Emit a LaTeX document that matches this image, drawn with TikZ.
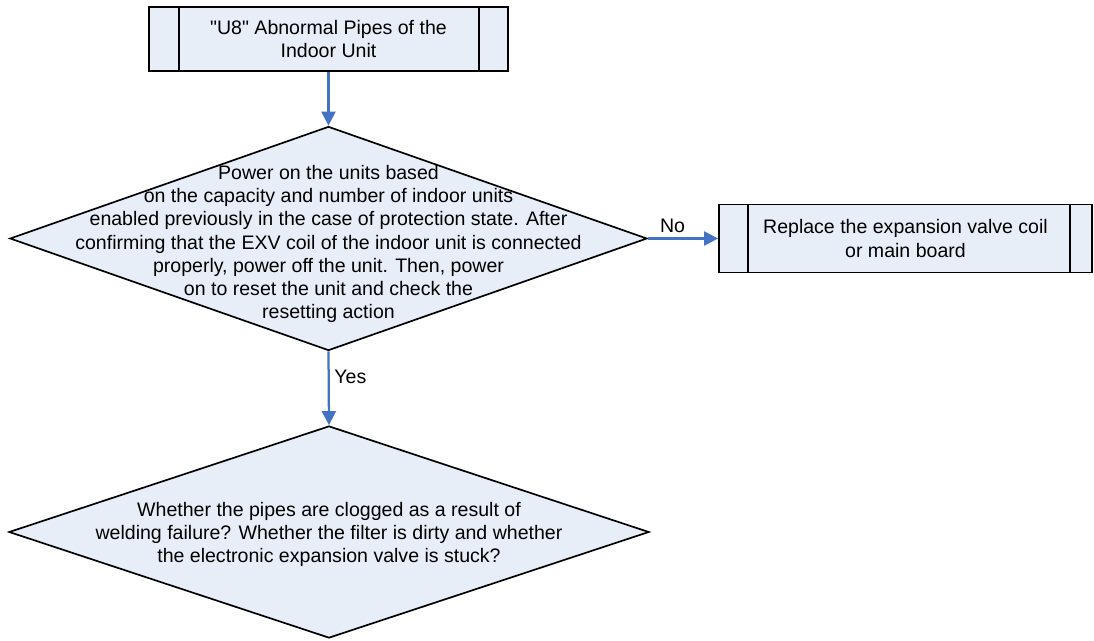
\documentclass[tikz,border=0pt]{standalone}
\usepackage{fontspec}
\setmainfont{Liberation Sans}[Ligatures=TeXOff]
\usetikzlibrary{arrows.meta, positioning, shapes.geometric}
\definecolor{flowFill}{HTML}{E8EEF8}
\definecolor{flowBlue}{HTML}{4472C4}

\tikzset{
  procbox/.style n args={2}{draw, line width=1.2pt, fill=flowFill, inner sep=0pt, align=center,
    path picture={
      \draw[line width=1.2pt] ([xshift=#1]path picture bounding box.north west) -- ([xshift=#1]path picture bounding box.south west);
      \draw[line width=1.2pt] ([xshift=-#2]path picture bounding box.north east) -- ([xshift=-#2]path picture bounding box.south east);
    }},
  decision/.style={diamond, draw, line width=1.2pt, fill=flowFill, inner sep=0pt},
  flowtext/.style={align=center, font=\fontsize{13.9}{16.4}\selectfont},
  flow/.style={draw=flowBlue, line width=1.6pt, -{Triangle[length=10pt, width=10pt]}},
}

\begin{document}
\begin{tikzpicture}[x=0.025cm, y=-0.025cm]
  \useasboundingbox (0,0) rectangle (1094,640);

  \node[procbox={0.75cm}{0.725cm}, minimum width=8.975cm, minimum height=1.6cm, flowtext] (start) at (328.5,39)
    {"U8" Abnormal Pipes of the\\Indoor Unit};

  \node[decision, minimum width=15.925cm, minimum height=5.6cm] (check) at (328.5,238.5) {};
  \node[flowtext] (checktext) at (328.5,244) {Power on the units based\\on the capacity and number of indoor units\\enabled previously in the case of protection state. After\\confirming that the EXV coil of the indoor unit is connected\\properly, power off the unit. Then, power\\on to reset the unit and check the\\resetting action};

  \node[procbox={0.725cm}{0.55cm}, minimum width=9.325cm, minimum height=1.7cm, flowtext] (replace) at (905.5,238.5)
    {Replace the expansion valve coil\\or main board};

  \node[decision, minimum width=16cm, minimum height=5.3cm] (pipes) at (329,532) {};
  \node[flowtext] (pipestext) at (329,534) {Whether the pipes are clogged as a result of\\welding failure? Whether the filter is dirty and whether\\the electronic expansion valve is stuck?};

  \draw[flow] (start) -- (check);
  \draw[flow] (check.east) -- node[flowtext, above, pos=0.35] {No} (replace.west);
  \draw[flow] (check.south) -- node[flowtext, right, pos=0.35] {Yes} (pipes.north);
\end{tikzpicture}
\end{document}
